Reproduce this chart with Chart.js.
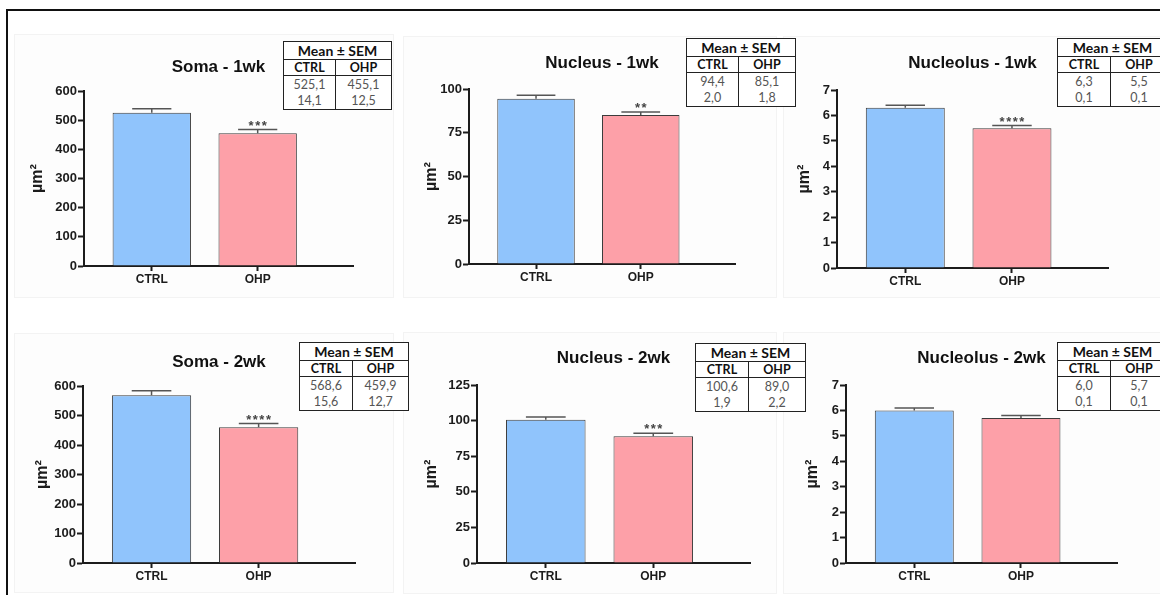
<!DOCTYPE html>
<html>
<head>
<meta charset="utf-8">
<script src="https://cdn.jsdelivr.net/npm/chart.js@4.4.1/dist/chart.umd.min.js"></script>
<style>
  body { margin: 0; background: #fff; overflow: hidden; }
  #page { position: relative; width: 1160px; height: 595px; overflow: hidden; }
  #frame { position: absolute; left: 6px; top: 9px; width: 1200px; height: 640px;
           border-left: 2px solid #111; border-top: 2px solid #111; }
  .panel { position: absolute; background: #fdfdfd; border: 1px solid #f3f3f3; z-index: 0; }
  .plot { position: absolute; z-index: 1; }
  table.stats { position: absolute; z-index: 2; border-collapse: collapse; table-layout: fixed;
                font-family: Lato, "Open Sans", sans-serif; font-size: 12.5px; text-align: center;
                background: #fff; border: 1.5px solid #222; }
  table.stats th, table.stats td { padding: 0; line-height: 15px; }
  table.stats th { color: #111; font-weight: bold; }
  table.stats td { color: #555; }
  table.stats tr.head th { border-bottom: 1.5px solid #222; height: 17px; font-size: 14px; }
  table.stats tr.groups th { border-bottom: 1.5px solid #222; height: 14px; }
  table.stats tr.groups th:first-child, table.stats tr.vals td:first-child { border-right: 1.5px solid #222; }
  table.stats tr.vals td { height: 33px; line-height: 16px; }
</style>
</head>
<body>
<div id="page"><div id="frame"></div></div>
<script>
const groups = ['CTRL', 'OHP'];

const somaMean1 = [525.1, 455.1];
const somaSem1 = [14.1, 12.5];
const nucleusMean1 = [94.4, 85.1];
const nucleusSem1 = [2.0, 1.8];
const nucleolusMean1 = [6.3, 5.5];
const nucleolusSem1 = [0.1, 0.1];

const somaMean2 = [568.6, 459.9];
const somaSem2 = [15.6, 12.7];
const nucleusMean2 = [100.6, 89.0];
const nucleusSem2 = [1.9, 2.2];
const nucleolusMean2 = [6.0, 5.7];
const nucleolusSem2 = [0.1, 0.1];

const titles = ['Soma - 1wk', 'Nucleus - 1wk', 'Nucleolus - 1wk', 'Soma - 2wk', 'Nucleus - 2wk', 'Nucleolus - 2wk'];
const means = [somaMean1, nucleusMean1, nucleolusMean1, somaMean2, nucleusMean2, nucleolusMean2];
const sems = [somaSem1, nucleusSem1, nucleolusSem1, somaSem2, nucleusSem2, nucleolusSem2];
const stars = [['', '***'], ['', '**'], ['', '****'], ['', '****'], ['', '***'], ['', '']];
const yMax = [600, 100, 7, 600, 125, 7];
const yStep = [100, 25, 1, 100, 25, 1];

// plot area of each graph: axis left, top tick, axis right, zero line
const plotBoxes = [
  [84, 91, 353, 266], [469, 89, 735, 264], [837, 90, 1108, 268],
  [83, 386, 355, 563], [477, 385, 750, 563], [846, 385, 1117, 563]
];
const titleGaps = [24, 26, 27, 24, 27, 27];
const yTitleGaps = [46, 37, 32, 40, 45, 33];
// stats table: left, top, width, first column width
const tableBoxes = [
  [283, 41, 108, 52], [686, 38, 109, 52], [1057, 38, 110, 53],
  [299, 342, 109, 53], [695, 343, 110, 53], [1057, 342, 110, 53]
];
const panelBoxes = [
  [14, 34, 378, 262], [403, 36, 372, 260], [783, 36, 380, 260],
  [14, 333, 378, 258], [403, 332, 372, 260], [783, 332, 380, 260]
];

const barColors = ['#90c4fc', '#fda0a8'];
const ink = '#1c1c1c';
Chart.defaults.font.family = '"Liberation Sans", Arial, sans-serif';
Chart.defaults.color = ink;

// SEM whiskers (upward only) and significance stars
const semBars = {
  id: 'semBars',
  afterDatasetsDraw(chart, args, opts) {
    const ctx = chart.ctx;
    const y = chart.scales.y;
    const meta = chart.getDatasetMeta(0);
    const vals = chart.data.datasets[0].data;
    ctx.save();
    ctx.strokeStyle = '#555';
    ctx.lineWidth = 1.5;
    ctx.fillStyle = '#444';
    ctx.font = 'bold 13px "Liberation Sans", Arial';
    ctx.letterSpacing = '1.5px';
    ctx.textAlign = 'center';
    ctx.textBaseline = 'alphabetic';
    meta.data.forEach((bar, i) => {
      const top = y.getPixelForValue(vals[i].y + opts.sem[i]);
      const half = bar.width / 4;
      ctx.beginPath();
      ctx.moveTo(bar.x, bar.y);
      ctx.lineTo(bar.x, top);
      ctx.moveTo(bar.x - half, top);
      ctx.lineTo(bar.x + half, top);
      ctx.stroke();
      if (opts.stars[i]) ctx.fillText(opts.stars[i], bar.x + 0.75, top);
    });
    ctx.restore();
  }
};

const fmt = v => v.toFixed(1).replace('.', ',');
const page = document.getElementById('page');

titles.forEach((title, i) => {
  const [px, py, pw, ph] = panelBoxes[i];
  const panel = document.createElement('div');
  panel.className = 'panel';
  Object.assign(panel.style, { left: px + 'px', top: py + 'px', width: pw + 'px', height: ph + 'px' });
  page.appendChild(panel);

  const [x0, y0, x1, y1] = plotBoxes[i];
  const left = Math.round(x0 - yTitleGaps[i] - 9.6);
  const top = Math.round(y0 - titleGaps[i] - 14.4);
  const yAxisW = x0 - left;
  const titlePadBottom = (y0 - top) - 24.4;
  const xAxisH = 24;
  const width = x1 + 4 - left;
  const height = y1 + xAxisH - top;

  const box = document.createElement('div');
  box.className = 'plot';
  Object.assign(box.style, { left: left + 'px', top: top + 'px', width: width + 'px', height: height + 'px' });
  const canvas = document.createElement('canvas');
  box.appendChild(canvas);
  page.appendChild(box);

  new Chart(canvas, {
    type: 'bar',
    data: {
      datasets: [{
        data: means[i].map((v, k) => ({ x: k + 1, y: v })),
        backgroundColor: barColors,
        borderColor: '#3c3c3c',
        borderWidth: 1,
        barPercentage: 0.74,
        categoryPercentage: 1
      }]
    },
    options: {
      responsive: true,
      maintainAspectRatio: false,
      animation: false,
      layout: { padding: { top: 0, left: 0, right: 4, bottom: 0 } },
      plugins: {
        legend: { display: false },
        tooltip: { enabled: false },
        title: {
          display: true, text: title, fullSize: false, color: '#111',
          font: { size: 17, weight: 'bold' },
          padding: { top: 4, bottom: titlePadBottom }
        },
        semBars: { sem: sems[i], stars: stars[i] }
      },
      scales: {
        x: {
          type: 'linear', min: 0.36, max: 2.9, offset: false,
          afterBuildTicks: s => { s.ticks = [{ value: 1 }, { value: 2 }]; },
          afterFit: s => { s.height = xAxisH; },
          ticks: { callback: v => groups[v - 1], font: { size: 12, weight: 'bold' }, padding: 1, color: ink },
          grid: { offset: false, drawOnChartArea: false, tickLength: 5, tickWidth: 2, tickColor: ink },
          border: { color: ink, width: 2 }
        },
        y: {
          min: 0, max: yMax[i],
          afterFit: s => { s.width = yAxisW; },
          ticks: { stepSize: yStep[i], font: { size: 13, weight: 'bold' }, padding: 1, color: ink },
          grid: { drawOnChartArea: false, tickLength: 6, tickWidth: 2, tickColor: ink },
          border: { color: ink, width: 2 },
          title: { display: true, text: 'µm²', font: { size: 16, weight: 'bold' }, padding: 0, color: ink }
        }
      }
    },
    plugins: [semBars]
  });

  // Mean ± SEM table
  const [tx, ty, tw, c1] = tableBoxes[i];
  const table = document.createElement('table');
  table.className = 'stats';
  Object.assign(table.style, { left: tx + 'px', top: ty + 'px', width: tw + 'px' });
  table.innerHTML =
    `<colgroup><col style="width:${c1}px"><col style="width:${tw - c1}px"></colgroup>` +
    `<tr class="head"><th colspan="2">Mean ± SEM</th></tr>` +
    `<tr class="groups"><th>${groups[0]}</th><th>${groups[1]}</th></tr>` +
    `<tr class="vals">` + means[i].map((m, k) => `<td>${fmt(m)}<br>${fmt(sems[i][k])}</td>`).join('') + `</tr>`;
  page.appendChild(table);
});
</script>
</body>
</html>
